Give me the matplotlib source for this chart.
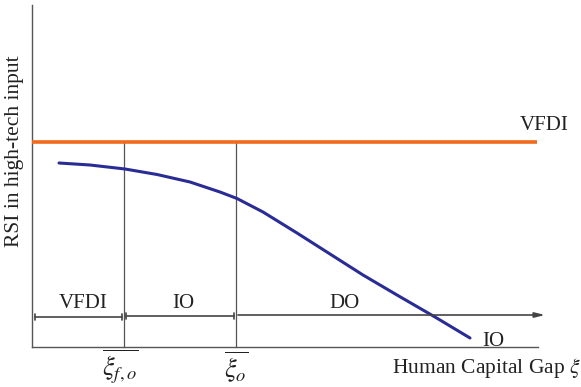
import matplotlib
matplotlib.use("Agg")
import matplotlib.pyplot as plt
import numpy as np

plt.rcParams['font.family'] = ['Liberation Serif', 'DejaVu Serif']
plt.rcParams['mathtext.fontset'] = 'stix'

# Data (schematic units: x = human capital gap, y = RSI)
curve_x = [27, 58, 93, 125, 158, 188, 205, 231, 265, 298, 331, 365, 403, 438]
curve_y = [184, 182, 178, 172.5, 165, 155, 148.5, 135, 114, 93, 72, 52, 30, 9]
vfdi_level = 205
vfdi_x_end = 505
xi_fo = 92
xi_o = 204
x_axis_end = 506
y_axis_top = 342
zone_arrow_y = 31
zone_arrow_end = 513
zone_labels = ["VFDI", "IO", "DO"]
zone_label_x = [51, 151, 313]
threshold_labels = [r"$\overline{\xi_{f,o}}$", r"$\overline{\xi_{o}}$"]

fig = plt.figure(figsize=(5.81, 3.87), dpi=100)
ax = fig.add_axes([0, 0, 1, 1])
ax.set_xlim(-32, 549)
ax.set_ylim(-40, 347)
ax.axis('off')

axis_col = '#555555'
# axes
ax.plot([0, 0], [0, y_axis_top], color=axis_col, lw=1.0)
ax.plot([0, x_axis_end], [0, 0], color=axis_col, lw=1.0)
# thresholds
for t in (xi_fo, xi_o):
    ax.plot([t, t], [0, vfdi_level], color=axis_col, lw=0.9)
# VFDI horizontal
ax.plot([0, vfdi_x_end], [vfdi_level, vfdi_level], color='#F26A1B', lw=2.6, solid_capstyle='butt')
# curve
ax.plot(curve_x, curve_y, color='#2A2C96', lw=2.2, solid_capstyle='round',
        solid_joinstyle='round')

# zone arrows
seg_kw = dict(color='#444444', lw=1.2, shrinkA=0, shrinkB=0)
ax.annotate('', xy=(xi_fo - 2, zone_arrow_y - 1), xytext=(3, zone_arrow_y - 1),
            arrowprops=dict(arrowstyle='|-|,widthA=0.25,widthB=0.25', **seg_kw))
ax.annotate('', xy=(xi_o - 2, zone_arrow_y), xytext=(xi_fo + 2, zone_arrow_y),
            arrowprops=dict(arrowstyle='|-|,widthA=0.2,widthB=0.2', **seg_kw))
ax.annotate('', xy=(zone_arrow_end, zone_arrow_y + 1), xytext=(xi_o + 2, zone_arrow_y + 1),
            arrowprops=dict(arrowstyle='-|>,head_length=0.6,head_width=0.15', **seg_kw))

txt_col = '#222222'
for lab, lx in zip(zone_labels, zone_label_x):
    ax.text(lx, 44, lab, ha='center', va='center', fontsize=15, color=txt_col)

ax.text(512, 221, "VFDI", ha='center', va='center', fontsize=15, color=txt_col)
ax.text(461, 5, "IO", ha='center', va='center', fontsize=15, color=txt_col)
ax.text(360, -21, r"Human Capital Gap $\xi$", ha='left', va='center', fontsize=15.5, color=txt_col)
ax.text(-17, 196, "RSI in high-tech input", ha='center', va='center', rotation=90,
        fontsize=15.5, color=txt_col)
for lab, tx in zip(threshold_labels, (xi_fo - 4, xi_o)):
    ax.text(tx, -20, lab, ha='center', va='center', fontsize=19, color=txt_col)

fig.savefig("out.png", dpi=100)
